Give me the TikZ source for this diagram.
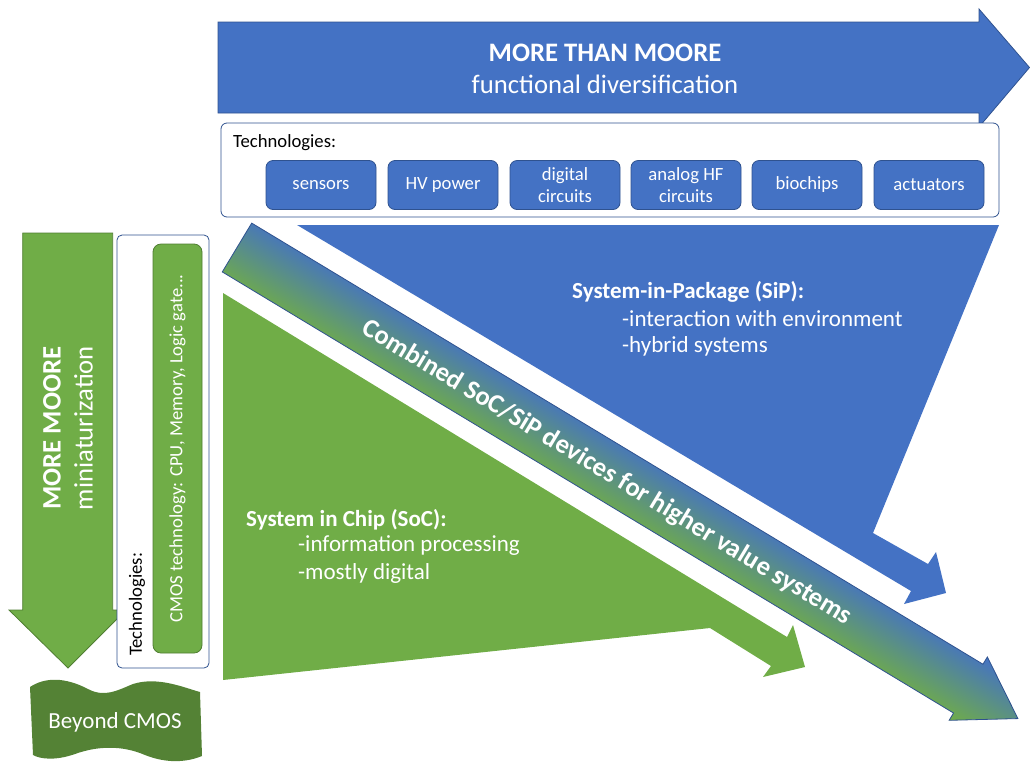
\documentclass[tikz,border=0pt]{standalone}
\usepackage{fontspec}
\setmainfont{Carlito}
\definecolor{mblue}{HTML}{4472C4}
\definecolor{mblueD}{HTML}{2F528F}
\definecolor{mgreen}{HTML}{70AD47}
\definecolor{mgreenD}{HTML}{507E32}
\definecolor{mgreenX}{HTML}{548235}
\newcommand\fsBig{\fontsize{26.67}{32}\selectfont}
\newcommand\fsMid{\fontsize{23}{27.5}\selectfont}
\newcommand\fsSmall{\fontsize{18.67}{22.5}\selectfont}
\begin{document}
\begin{tikzpicture}[x=1pt,y=-1pt,
  techbox/.style={draw=mblueD, fill=mblue, rounded corners=7pt, minimum width=110pt, minimum height=49pt, text=white, font=\fsSmall, align=center, inner sep=0pt, line width=0.8pt},
  frame/.style={draw=mblueD, fill=white, line width=0.8pt, inner sep=0pt},
  wtxt/.style={text=white, inner sep=0pt, anchor=west, font=\fsMid},
  wbold/.style={wtxt, font=\fsMid\bfseries},
  bigarrow/.style={line width=0.8pt}
]
\useasboundingbox (0,0) rectangle (1030,761);

% SiP blue region
\fill[mblue] (297,225) -- (999,225) -- (873,533) -- (928,564) -- (936,552) -- (946,593) -- (904,604) -- (911,591) -- cycle;
% SoC green region
\fill[mgreen] (223,293) -- (787,637) -- (793,625) -- (805,667) -- (763,677) -- (771,666) -- (710,628) -- (223,680) -- cycle;

% combined band
\begin{scope}[transform canvas={shift={(237,247.5)}, rotate=-31.1}]
\shadedraw[top color=mblue, bottom color=mgreen, draw=mblueD, line width=0.8pt]
  (0,-28.5) -- (854,-28.5) -- (854,-37) -- (912,0) -- (854,37) -- (854,28.5) -- (0,28.5) -- cycle;
\node[text=white, font=\fsBig\bfseries, inner sep=0pt] (comb) at (433,2) {Combined SoC/SiP devices for higher value systems};
\end{scope}

% texts in regions
\node[wbold] (sip) at (572,292) {System-in-Package (SiP):};
\node[wtxt] (sip1) at (622,319) {-interaction with environment};
\node[wtxt] (sip2) at (622,346) {-hybrid systems};
\node[wbold] (soc) at (246,520) {System in Chip (SoC):};
\node[wtxt] (soc1) at (298,546) {-information processing};
\node[wtxt] (soc2) at (298,573) {-mostly digital};

% top arrow
\draw[bigarrow, fill=mblue, draw=mblueD] (218,22) -- (979,22) -- (979,9) -- (1029.5,67.5) -- (979,127) -- (979,113) -- (218,113) -- cycle;
\node[text=white, align=center, font=\fsBig] (mtm) at (605,69) {\textbf{MORE THAN MOORE}\\functional diversification};

% top technologies box
\node[frame, rounded corners=6pt, minimum width=778pt, minimum height=94pt] (ttech) at (610,170) {};
\node[anchor=west, inner sep=0pt, font=\fsSmall] (ttl) at (233,143) {Technologies:};
\node[techbox] (t1) at (321,185) {sensors};
\node[techbox] (t2) at (443,185) {HV power};
\node[techbox] (t3) at (565,185) {digital\\circuits};
\node[techbox] (t4) at (686,185) {analog HF\\circuits};
\node[techbox] (t5) at (807,185) {biochips};
\node[techbox] (t6) at (929,185) {actuators};

% left arrow
\draw[bigarrow, fill=mgreen, draw=mgreenD] (22.7,233) -- (112.7,233) -- (112.7,610) -- (126,610) -- (68,668) -- (9,610) -- (22.7,610) -- cycle;
\node[rotate=90, text=white, align=center, font=\fsBig] (mm) at (68,428) {\textbf{MORE MOORE}\\miniaturization};

% left technologies box
\node[frame, rounded corners=5pt, minimum width=92pt, minimum height=433pt] (ltech) at (163,451.5) {};
\node[draw=mgreenD, fill=mgreen, line width=0.8pt, rounded corners=8pt, minimum width=49pt, minimum height=409pt, inner sep=0pt] (cmosbox) at (177.5,448.5) {};
\node[rotate=90, text=white, font=\fsSmall, inner sep=0pt] (cmos) at (cmosbox.center) {CMOS technology: CPU, Memory, Logic gate...};
\node[rotate=90, anchor=west, inner sep=0pt, font=\fsSmall] (ltl) at (137,656) {Technologies:};

% beyond CMOS wave
\fill[mgreenX] (30,687) .. controls (45,677) and (65,677) .. (88,689)
  .. controls (105,698) and (118,690) .. (133,684)
  .. controls (158,676) and (185,688) .. (200,692)
  -- (202,756)
  .. controls (185,763) and (165,763) .. (145,755)
  .. controls (122,745) and (97,746) .. (75,754)
  .. controls (55,761) and (40,759) .. (33,755) -- cycle;
\node[text=white, font=\fsMid] (bcmos) at (115,722) {Beyond CMOS};
\end{tikzpicture}
\end{document}
